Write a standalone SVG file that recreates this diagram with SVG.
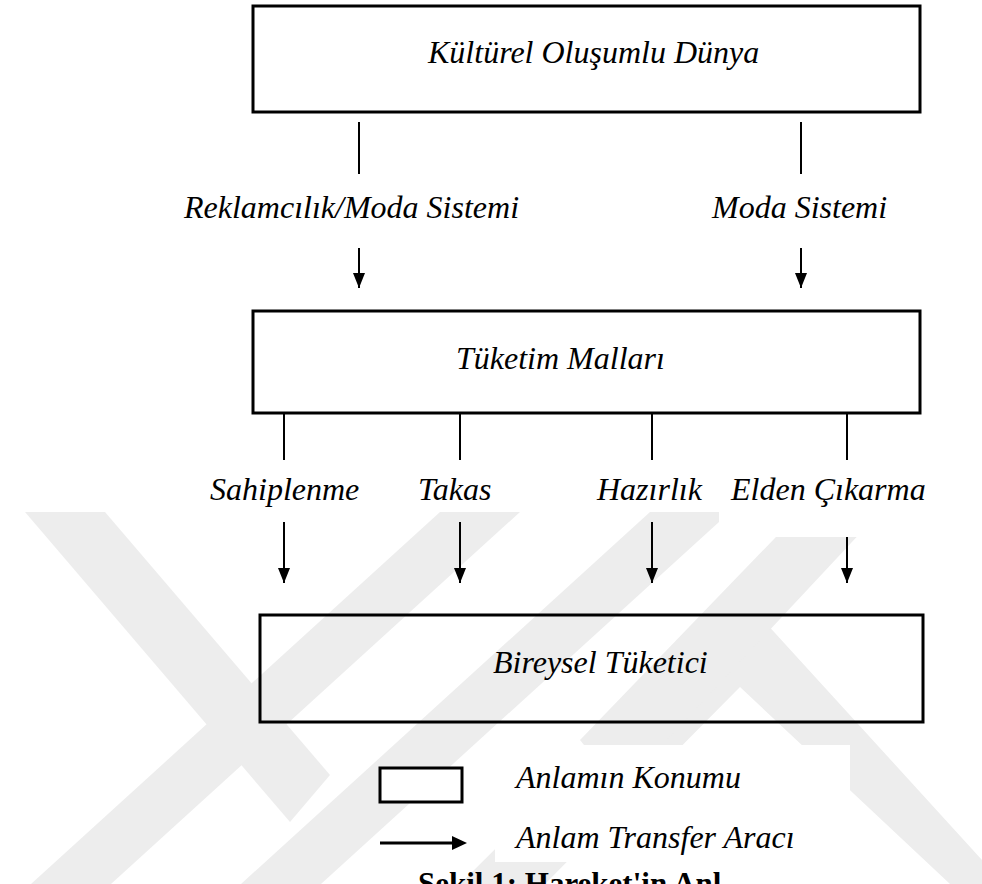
<svg xmlns="http://www.w3.org/2000/svg" width="982" height="884" viewBox="0 0 982 884">
<style>
.box{fill:none;stroke:#000;stroke-width:3}
.lbl{font-family:"Liberation Serif","Times New Roman",serif;font-style:italic;font-size:32px;fill:#000}
.cap{font-family:"Liberation Serif","Times New Roman",serif;font-weight:bold;font-size:31px;fill:#000}
.ln{stroke:#000;stroke-width:2;fill:none}
.wm{fill:#ededed}
.wb{fill:#fff}
</style>
<defs>
<marker id="ah" markerUnits="userSpaceOnUse" viewBox="0 0 15 12" refX="15" refY="6" markerWidth="15" markerHeight="12" orient="auto">
<path d="M0,0 L15,6 L0,12 z" fill="#000"/>
</marker>
</defs>
<rect width="982" height="884" fill="#fff"/>
<g id="watermark">
<polygon class="wm" points="25,512 105,512 330,775 290,822"/>
<polygon class="wm" points="440,512 520,512 111,884 31,884"/>
<polygon class="wm" points="650,512 730,512 321,884 241,884"/>
<polygon class="wm" points="745,600 982,860 982,884 950,884 740,687 545,884 460,884"/>
<polygon class="wm" points="800,512 880,512 620,790 580,740"/>
</g>
<g id="label-backs">
<rect class="wb" x="719" y="470" width="230" height="67"/>
<rect class="wb" x="495" y="745" width="355" height="117"/>
<rect class="wb" x="380" y="768" width="82" height="34"/>
</g>
<g id="connectors">
<line class="ln" x1="359" y1="122" x2="359" y2="174"/>
<line class="ln" x1="801" y1="122" x2="801" y2="174"/>
<line class="ln" x1="359" y1="248" x2="359" y2="288" marker-end="url(#ah)"/>
<line class="ln" x1="801" y1="248" x2="801" y2="288" marker-end="url(#ah)"/>
<line class="ln" x1="284" y1="413" x2="284" y2="460"/>
<line class="ln" x1="460" y1="413" x2="460" y2="460"/>
<line class="ln" x1="652" y1="413" x2="652" y2="460"/>
<line class="ln" x1="847" y1="413" x2="847" y2="460"/>
<line class="ln" x1="284" y1="522" x2="284" y2="583" marker-end="url(#ah)"/>
<line class="ln" x1="460" y1="522" x2="460" y2="583" marker-end="url(#ah)"/>
<line class="ln" x1="652" y1="522" x2="652" y2="583" marker-end="url(#ah)"/>
<line class="ln" x1="847" y1="537" x2="847" y2="583" marker-end="url(#ah)"/>
</g>
<g id="labels">
<text class="lbl" x="184" y="218">Reklamcılık/Moda Sistemi</text>
<text class="lbl" x="712" y="218">Moda Sistemi</text>
<text class="lbl" x="210" y="500">Sahiplenme</text>
<text class="lbl" x="418" y="500">Takas</text>
<text class="lbl" x="597" y="500">Hazırlık</text>
<text class="lbl" x="731" y="500">Elden Çıkarma</text>
</g>
<g id="node-kulturel">
<rect class="box" x="253" y="6" width="667" height="106"/>
<text class="lbl" x="428" y="63">Kültürel Oluşumlu Dünya</text>
</g>
<g id="node-tuketim">
<rect class="box" x="253" y="311" width="667" height="102"/>
<text class="lbl" x="456" y="369">Tüketim Malları</text>
</g>
<g id="node-bireysel">
<rect class="box" x="260" y="615" width="663" height="107"/>
<text class="lbl" x="493" y="673">Bireysel Tüketici</text>
</g>
<g id="legend">
<rect class="box" x="380" y="768" width="82" height="34"/>
<line x1="380" y1="843" x2="454" y2="843" stroke="#000" stroke-width="3"/>
<path d="M452,836 L467,843 L452,850 z" fill="#000"/>
<text class="lbl" x="516" y="788">Anlamın Konumu</text>
<text class="lbl" x="516" y="848">Anlam Transfer Aracı</text>
</g>
<g id="caption">
<text class="cap" x="418" y="894">Şekil 1: Hareket'in Anl</text>
</g>
</svg>
